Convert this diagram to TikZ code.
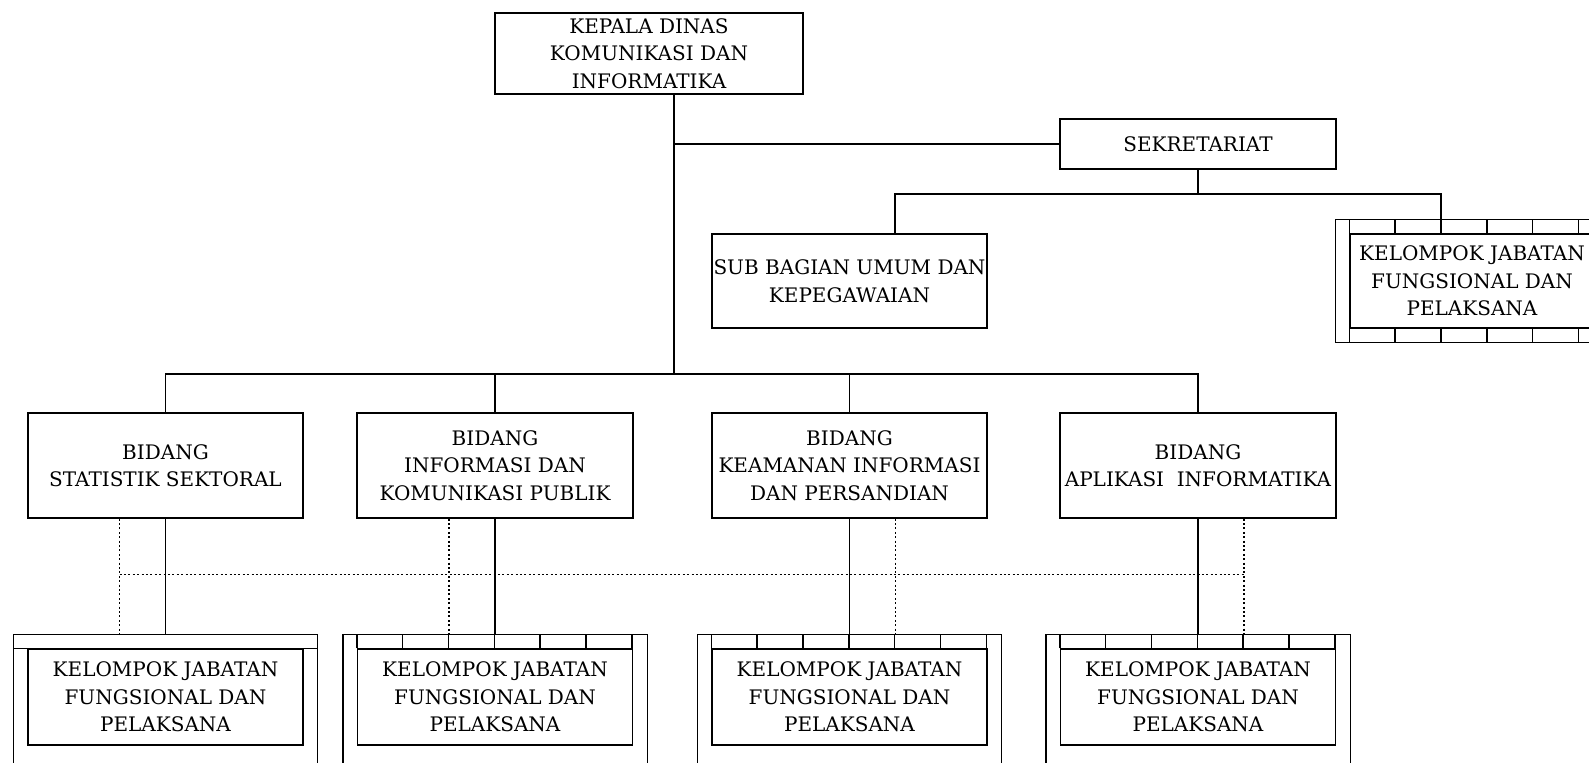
\documentclass[tikz,border=0pt]{standalone}
\usepackage{fontspec}
\setmainfont{DejaVu Serif}
\usetikzlibrary{positioning}

\tikzset{
  kotak/.style={draw, line width=0.7pt, align=center, inner sep=0pt,
    minimum width=137.5pt, font=\fontsize{10}{13.75}\selectfont},
  garis/.style={line width=0.7pt},
  titik/.style={line width=0.7pt, dash pattern=on 1pt off 1.2pt}
}

\begin{document}
\begin{tikzpicture}[x=0.5pt,y=-0.5pt]

\useasboundingbox (0,0) rectangle (1589,763);
\clip (0,0) rectangle (1589,763);

%--------------------
% pimpinan
%--------------------
\node[kotak, minimum width=154pt, minimum height=40.5pt] (kadis) at (649,53.5)
  {KEPALA DINAS\\KOMUNIKASI DAN\\INFORMATIKA};

\node[kotak, minimum width=138pt, minimum height=25pt] (sekre) at (1198,144)
  {SEKRETARIAT};

\node[kotak, minimum height=47pt] (subbag) at (849.5,281)
  {SUB BAGIAN UMUM DAN\\KEPEGAWAIAN};

% kelompok jabatan di bawah sekretariat
\node[kotak, minimum width=122pt, minimum height=47pt] (kjfsek) at (1472,281)
  {KELOMPOK JABATAN\\FUNGSIONAL DAN\\PELAKSANA};

\draw[garis] ([shift={(160,-14)}]kjfsek.north east) -| ([shift={(-14,14)}]kjfsek.south west)
  -- ([shift={(160,14)}]kjfsek.south east);
\foreach \i in {0,...,6} {
  \draw[garis] ([xshift=\i*22.9167pt]kjfsek.north west) -- ++(0,-14);
  \draw[garis] ([xshift=\i*22.9167pt]kjfsek.south west) -- ++(0,14);
}

%--------------------
% bidang
%--------------------
\node[kotak, minimum height=52.5pt] (bid1) at (165.5,465.5)
  {BIDANG\\STATISTIK SEKTORAL};
\node[kotak, minimum width=138pt, minimum height=52.5pt] (bid2) at (495,465.5)
  {BIDANG\\INFORMASI DAN\\KOMUNIKASI PUBLIK};
\node[kotak, minimum height=52.5pt] (bid3) at (849.5,465.5)
  {BIDANG\\KEAMANAN INFORMASI\\DAN PERSANDIAN};
\node[kotak, minimum width=138pt, minimum height=52.5pt] (bid4) at (1198,465.5)
  {BIDANG\\APLIKASI\ \ INFORMATIKA};

% kelompok jabatan fungsional tiap bidang
\node[kotak, minimum height=48pt] (kjf1) at (165.5,697)
  {KELOMPOK JABATAN\\FUNGSIONAL DAN\\PELAKSANA};
\node[kotak, minimum height=48pt] (kjf2) at (495,697)
  {KELOMPOK JABATAN\\FUNGSIONAL DAN\\PELAKSANA};
\node[kotak, minimum height=48pt] (kjf3) at (849.5,697)
  {KELOMPOK JABATAN\\FUNGSIONAL DAN\\PELAKSANA};
\node[kotak, minimum height=48pt] (kjf4) at (1198,697)
  {KELOMPOK JABATAN\\FUNGSIONAL DAN\\PELAKSANA};

% bingkai luar
\foreach \k in {kjf1,kjf2,kjf3,kjf4}
  \draw[garis] ([shift={(-14,40)}]\k.south west) |- ([shift={(14,-14)}]\k.north east)
    -- ([shift={(14,40)}]\k.south east);
\draw[garis] ([xshift=-7pt]kjf1.north west) -- ([xshift=7pt]kjf1.north east);
\foreach \k in {kjf2,kjf3,kjf4}
  \foreach \i in {0,...,6}
    \draw[garis] ([xshift=\i*22.9167pt]\k.north west) -- ++(0,-14);

%--------------------
% garis komando
%--------------------
\coordinate (pusat) at (674,374);
\coordinate (cabang) at (1198,194);

\draw[garis] (kadis.south -| pusat) -- (pusat);
\draw[garis] (kadis.south -| pusat) |- (sekre.west);
\draw[garis] (bid1.north) |- (pusat) -| (bid4.north);
\draw[garis] (bid2.north) -- (bid2.north |- pusat);
\draw[garis] (bid3.north) -- (bid3.north |- pusat);

\draw[garis] (sekre.south) -- (cabang);
\draw[garis] ([xshift=22.75pt]subbag.north) |- (cabang)
  -| ([shift={(91.7,-14)}]kjfsek.north west);

\foreach \n in {1,2,3,4}
  \draw[garis] (bid\n.south) -- ([yshift=7pt]kjf\n.north);

% garis koordinasi
\draw[titik] ([shift={(-46,56)}]bid1.south) -- ([shift={(46,56)}]bid4.south);
\draw[titik] ([xshift=-23pt]bid1.south) -- ([xshift=-23pt,yshift=7pt]kjf1.north);
\draw[titik] ([xshift=-23pt]bid2.south) -- ([xshift=-23pt,yshift=7pt]kjf2.north);
\draw[titik] ([xshift=23pt]bid3.south) -- ([xshift=23pt,yshift=7pt]kjf3.north);
\draw[titik] ([xshift=23pt]bid4.south) -- ([xshift=23pt,yshift=7pt]kjf4.north);

\end{tikzpicture}
\end{document}
